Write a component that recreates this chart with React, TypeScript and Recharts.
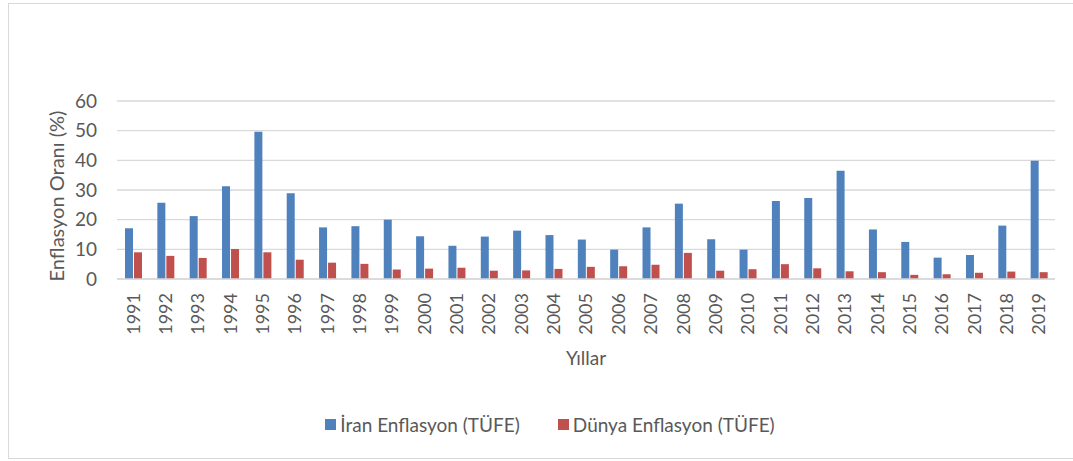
import React from "react";
import { BarChart, Bar, XAxis, YAxis, CartesianGrid, Legend } from "recharts";

const years = [
  "1991", "1992", "1993", "1994", "1995", "1996", "1997", "1998", "1999", "2000",
  "2001", "2002", "2003", "2004", "2005", "2006", "2007", "2008", "2009", "2010",
  "2011", "2012", "2013", "2014", "2015", "2016", "2017", "2018", "2019",
];
const iranInflation = [
  17.1, 25.7, 21.2, 31.3, 49.6, 28.9, 17.4, 17.8, 20.0, 14.4,
  11.2, 14.3, 16.3, 14.8, 13.3, 9.9, 17.4, 25.4, 13.4, 9.9,
  26.3, 27.3, 36.5, 16.7, 12.5, 7.2, 8.1, 18.0, 39.9,
];
const worldInflation = [
  9.0, 7.8, 7.1, 10.1, 9.0, 6.5, 5.5, 5.1, 3.2, 3.5,
  3.8, 2.8, 2.9, 3.4, 4.1, 4.3, 4.8, 8.8, 2.8, 3.3,
  5.0, 3.6, 2.6, 2.3, 1.4, 1.6, 2.1, 2.5, 2.3,
];
const yTicks = [0, 10, 20, 30, 40, 50, 60];

const IRAN_NAME = "İran Enflasyon (TÜFE)";
const WORLD_NAME = "Dünya Enflasyon (TÜFE)";
const BLUE = "#4F81BD";
const RED = "#C0504D";
const TEXT = "#595959";
const FONT = "Lato, 'Open Sans', sans-serif";

const data = years.map((year, i) => ({
  year,
  iran: iranInflation[i],
  world: worldInflation[i],
}));

const YearTick = (props: any) => {
  const { x, y, payload } = props;
  return (
    <text
      x={x}
      y={y}
      transform={`rotate(-90, ${x}, ${y})`}
      textAnchor="end"
      dy="0.36em"
      fill={TEXT}
      fontSize={18}
      fontFamily={FONT}
    >
      {payload.value}
    </text>
  );
};

const YTitle = (props: any) => {
  const { x, y, width, height } = props.viewBox;
  const cx = x + width / 2 - 2;
  const cy = y + height / 2 + 6;
  return (
    <text
      x={cx}
      y={cy}
      transform={`rotate(-90, ${cx}, ${cy})`}
      textAnchor="middle"
      dy="0.36em"
      fill={TEXT}
      fontSize={20}
      fontFamily={FONT}
    >
      Enflasyon Oranı (%)
    </text>
  );
};

const XTitle = (props: any) => {
  const { x, y, width } = props.viewBox;
  return (
    <text
      x={x + width / 2}
      y={y + 86}
      textAnchor="middle"
      fill={TEXT}
      fontSize={19}
      fontFamily={FONT}
    >
      Yıllar
    </text>
  );
};

const LegendBox = () => (
  <div
    style={{
      display: "flex",
      justifyContent: "center",
      alignItems: "center",
      height: 24,
      gap: 38,
      fontFamily: FONT,
      fontSize: 19,
      color: TEXT,
      marginLeft: 27,
    }}
  >
    <span style={{ display: "flex", alignItems: "center" }}>
      <span style={{ width: 11, height: 11, background: BLUE, marginRight: 4 }} />
      {IRAN_NAME}
    </span>
    <span style={{ display: "flex", alignItems: "center" }}>
      <span style={{ width: 11, height: 11, background: RED, marginRight: 4 }} />
      {WORLD_NAME}
    </span>
  </div>
);

export default function App() {
  return (
    <div
      style={{
        position: "absolute",
        left: 0,
        top: 0,
        width: 1073,
        height: 461,
        background: "#fff",
      }}
    >
      <div
        style={{
          position: "absolute",
          left: 8,
          top: 3,
          width: 1070,
          height: 456,
          border: "1px solid #D9D9D9",
          boxSizing: "border-box",
        }}
      />
      <BarChart
        width={1073}
        height={461}
        data={data}
        barSize={8}
        barGap={1}
        margin={{ top: 101, right: 18, left: 0, bottom: 73 }}
      >
        <CartesianGrid vertical={false} stroke="#D9D9D9" strokeWidth={1.3} />
        <XAxis
          dataKey="year"
          height={85}
          tickLine={false}
          axisLine={{ stroke: "#D9D9D9", strokeWidth: 1.3 }}
          tickSize={0}
          tickMargin={14}
          interval={0}
          tick={<YearTick />}
          label={<XTitle />}
        />
        <YAxis
          width={117}
          domain={[0, 60]}
          ticks={yTicks}
          tickLine={false}
          axisLine={false}
          tickSize={0}
          tickMargin={20}
          tick={{ fill: TEXT, fontSize: 19, fontFamily: FONT }}
          label={<YTitle />}
        />
        <Legend
          verticalAlign="bottom"
          content={<LegendBox />}
          wrapperStyle={{ top: 412, bottom: "auto", left: 0, width: 1073 }}
        />
        <Bar dataKey="iran" name={IRAN_NAME} fill={BLUE} isAnimationActive={false} />
        <Bar dataKey="world" name={WORLD_NAME} fill={RED} isAnimationActive={false} />
      </BarChart>
    </div>
  );
}
